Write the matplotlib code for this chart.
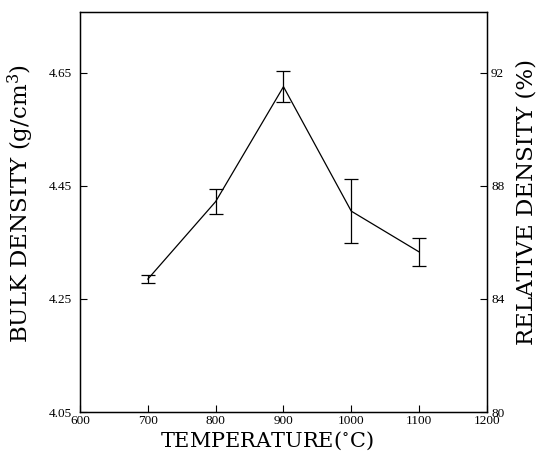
import matplotlib
matplotlib.use("Agg")
import matplotlib.pyplot as plt

temperature = [700, 800, 900, 1000, 1100]
bulk_density = [4.285, 4.422, 4.625, 4.405, 4.333]
density_err = [0.007, 0.022, 0.027, 0.057, 0.025]

x_ticks = [600, 700, 800, 900, 1000, 1100, 1200]
left_ticks = [4.05, 4.25, 4.45, 4.65]
left_labels = ["4.05", "4.25", "4.45", "4.65"]
right_ticks = [80, 84, 88, 92]
right_labels = ["80", "84", "88", "92"]

plt.rcParams['font.family'] = ['Liberation Serif', 'DejaVu Serif']
plt.rcParams['mathtext.fontset'] = 'dejavuserif'

fig = plt.figure(figsize=(5.41, 4.54), dpi=100)
ax = fig.add_axes([0.148, 0.0925, 0.752, 0.881])

ylo, yhi = 4.05, 4.757
ax.errorbar(temperature, bulk_density, yerr=density_err, color='black',
            lw=0.9, elinewidth=0.9, capsize=5, capthick=0.9)
ax.set_xlim(600, 1200)
ax.set_ylim(ylo, yhi)
ax.set_xticks(x_ticks)
ax.set_xticklabels([str(t) for t in x_ticks])
ax.set_yticks(left_ticks)
ax.set_yticklabels(left_labels)
ax.tick_params(direction='in', length=5, width=0.8, labelsize=9.5)
ax.tick_params(axis='x', pad=2)
ax.tick_params(axis='y', pad=6)
for s in ax.spines.values():
    s.set_linewidth(1.0)

ax2 = ax.twinx()
ax2.set_ylim(80, 80 + (yhi - ylo) * 20)
ax2.set_yticks(right_ticks)
ax2.set_yticklabels(right_labels)
ax2.tick_params(direction='in', length=5, width=0.8, labelsize=9.5, pad=3)

lab_font = dict(fontsize=15, family='DejaVu Serif')
ax.set_xlabel("TEMPERATURE($^{\\circ}$C)", **lab_font)
ax.xaxis.set_label_coords(0.46, -0.045, transform=ax.transAxes)
ax.xaxis.label.set_verticalalignment('top')
ylab_font = dict(fontsize=16.5, family='DejaVu Serif')
ax.set_ylabel("BULK DENSITY (g/cm$^3$)", va='center', **ylab_font)
ax.yaxis.set_label_coords(-0.145, 0.52, transform=ax.transAxes)
ax2.set_ylabel("RELATIVE DENSITY (%)", va='center', **ylab_font)
ax2.yaxis.set_label_coords(1.098, 0.525, transform=ax.transAxes)

fig.savefig("out.png", dpi=100)
